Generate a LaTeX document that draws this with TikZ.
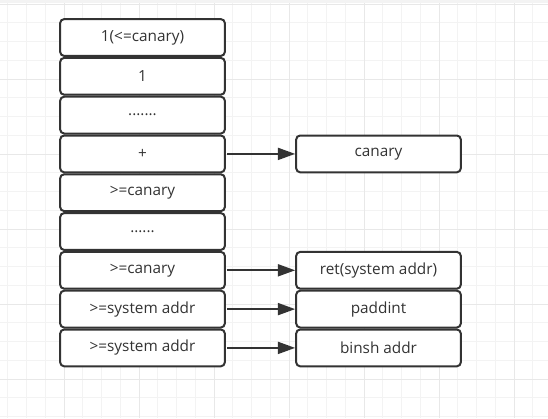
\documentclass[tikz,border=0pt]{standalone}
\usepackage{fontspec}
\setmainfont{Open Sans}
\usetikzlibrary{arrows.meta, positioning}
\definecolor{GridMinor}{RGB}{243, 243, 243}
\definecolor{GridMajor}{RGB}{232, 232, 232}
\definecolor{StackDark}{RGB}{51, 51, 51}
\definecolor{StackText}{RGB}{51, 51, 51}

\begin{document}
\begin{tikzpicture}[x=0.75pt, y=-0.75pt,
    slot/.style={draw=StackDark, line width=1.5pt, rounded corners=3pt, fill=white,
        minimum width=123.5pt, minimum height=27.6pt, inner sep=0pt,
        font=\fontsize{11.5}{13}\selectfont, text=StackText},
    link/.style={-{Triangle[length=13pt, width=9pt]}, line width=1.5pt, StackDark, shorten <=1pt}]
    \useasboundingbox (0,0) rectangle (548,418);
    % grid paper behind the stack
    \fill[white] (0,0) rectangle (548,418);
    \foreach \k in {0,...,29} {
        \draw[GridMinor, line width=0.75pt] (7.75+18.75*\k,0) -- (7.75+18.75*\k,418);
        \draw[GridMinor, line width=0.75pt] (0,4+18.75*\k) -- (548,4+18.75*\k);
    }
    \foreach \k in {0,...,7} {
        \draw[GridMajor, line width=0.75pt] (64+75*\k,0) -- (64+75*\k,418);
        \draw[GridMajor, line width=0.75pt] (0,4+75*\k) -- (548,4+75*\k);
    }
    \fill[GridMinor] (0,0) rectangle (548,3);
    % stack
    \node[slot] (s1) at (142.5,37.5) {1(<=canary)};
    \node[slot, below=0pt of s1] (s2) {1};
    \node[slot, below=0pt of s2] (s3) {.......};
    \node[slot, below=0pt of s3] (s4) {+};
    \node[slot, below=0pt of s4] (s5) {>=canary};
    \node[slot, below=0pt of s5] (s6) {......};
    \node[slot, below=0pt of s6] (s7) {>=canary};
    \node[slot, below=0pt of s7] (s8) {>=system addr};
    \node[slot, below=0pt of s8] (s9) {>=system addr};
    % overwritten values
    \node[slot, right=52pt of s4] (canary) {canary};
    \node[slot, right=52pt of s7] (ret) {ret(system addr)};
    \node[slot, below=0pt of ret] (pad) {paddint};
    \node[slot, below=0pt of pad] (binsh) {binsh addr};
    \draw[link] (s4) -- (canary);
    \draw[link] (s7) -- (ret);
    \draw[link] (s8) -- (pad);
    \draw[link] (s9) -- (binsh);
\end{tikzpicture}
\end{document}
